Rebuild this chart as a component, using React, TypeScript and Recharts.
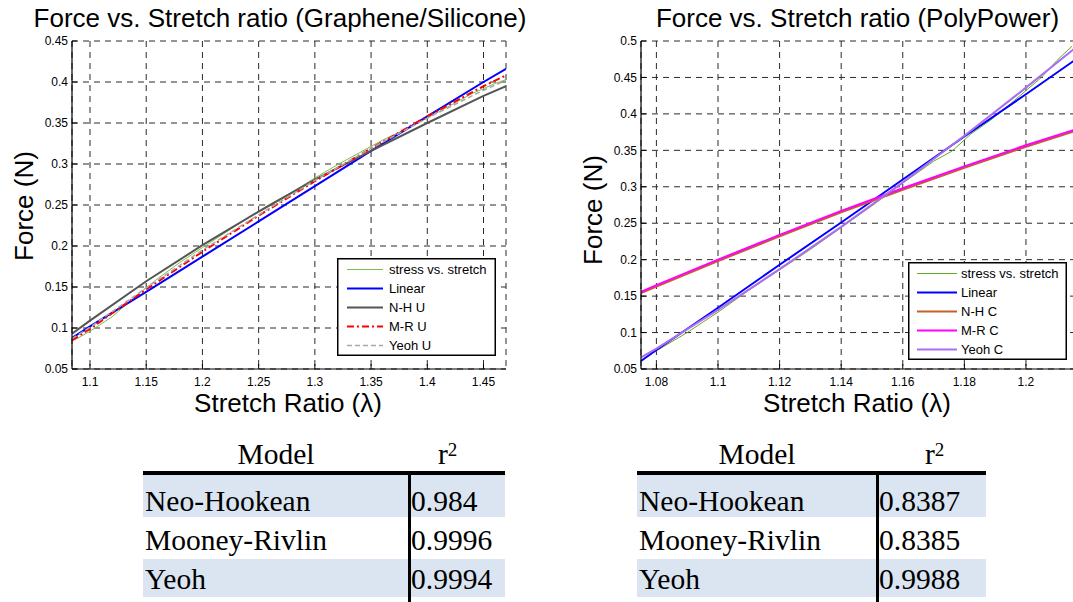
import { LineChart, Line, XAxis, YAxis, CartesianGrid, Legend } from 'recharts'

// Graphene/Silicone panel
const leftStretch = [1.084, 1.1, 1.15, 1.2, 1.25, 1.3, 1.35, 1.4, 1.45, 1.47]
const leftLinear = [0.088, 0.102, 0.144, 0.187, 0.23, 0.273, 0.316, 0.358, 0.4, 0.416]
const leftNeoHookean = [0.093, 0.109, 0.157, 0.201, 0.242, 0.281, 0.316, 0.35, 0.383, 0.395]
const leftMooneyRivlin = [0.085, 0.099, 0.147, 0.193, 0.237, 0.279, 0.319, 0.358, 0.395, 0.408]
const leftYeoh = [0.087, 0.101, 0.149, 0.195, 0.238, 0.28, 0.319, 0.356, 0.39, 0.402]
const leftMeasuredStretch = [1.087, 1.1, 1.12, 1.14, 1.16, 1.18, 1.2, 1.22, 1.24, 1.26, 1.28, 1.3, 1.32, 1.34, 1.36, 1.38, 1.4, 1.42, 1.44, 1.46, 1.47]
const leftMeasuredForce = [0.086, 0.096, 0.114, 0.138, 0.16, 0.18, 0.198, 0.216, 0.234, 0.251, 0.266, 0.283, 0.299, 0.314, 0.329, 0.342, 0.356, 0.371, 0.386, 0.398, 0.403]
const leftXTicks = [1.1, 1.15, 1.2, 1.25, 1.3, 1.35, 1.4, 1.45]
const leftYTicks = [0.05, 0.1, 0.15, 0.2, 0.25, 0.3, 0.35, 0.4, 0.45]

// PolyPower panel
const rightStretch = [1.075, 1.08, 1.1, 1.12, 1.14, 1.16, 1.18, 1.2, 1.2156]
const rightLinear = [0.061, 0.076, 0.134, 0.193, 0.251, 0.31, 0.369, 0.427, 0.473]
const rightNeoHookean = [0.154, 0.163, 0.198, 0.232, 0.265, 0.296, 0.326, 0.355, 0.376]
const rightMooneyRivlin = [0.156, 0.165, 0.2, 0.234, 0.267, 0.298, 0.328, 0.357, 0.378]
const rightYeoh = [0.066, 0.078, 0.131, 0.187, 0.245, 0.306, 0.37, 0.436, 0.489]
const rightMeasuredStretch = [1.078, 1.09, 1.1, 1.11, 1.12, 1.13, 1.14, 1.15, 1.16, 1.17, 1.176, 1.182, 1.189, 1.195, 1.2, 1.205, 1.21, 1.215]
const rightMeasuredForce = [0.07, 0.1, 0.128, 0.158, 0.186, 0.214, 0.244, 0.274, 0.305, 0.335, 0.349, 0.372, 0.393, 0.414, 0.432, 0.45, 0.473, 0.493]
const rightXTicks = [1.08, 1.1, 1.12, 1.14, 1.16, 1.18, 1.2]
const rightYTicks = [0.05, 0.1, 0.15, 0.2, 0.25, 0.3, 0.35, 0.4, 0.45, 0.5]

// r^2 tables
const modelNames = ['Neo-Hookean', 'Mooney-Rivlin', 'Yeoh']
const leftR2 = ['0.984', '0.9996', '0.9994']
const rightR2 = ['0.8387', '0.8385', '0.9988']

const zip = (xs: number[], ys: number[]) => xs.map((x, i) => ({ x, y: ys[i] }))

interface Series {
    name: string
    data: { x: number; y: number }[]
    color: string
    width: number
    dash?: string
}

const leftSeries: Series[] = [
    { name: 'stress vs. stretch', data: zip(leftMeasuredStretch, leftMeasuredForce), color: '#7cc04a', width: 1 },
    { name: 'Linear', data: zip(leftStretch, leftLinear), color: '#0000ff', width: 2 },
    { name: 'N-H U', data: zip(leftStretch, leftNeoHookean), color: '#555555', width: 2 },
    { name: 'M-R U', data: zip(leftStretch, leftMooneyRivlin), color: '#ff0000', width: 2, dash: '7 3 2 3' },
    { name: 'Yeoh U', data: zip(leftStretch, leftYeoh), color: '#a8a8a8', width: 1.5, dash: '5 3' },
]

const rightSeries: Series[] = [
    { name: 'stress vs. stretch', data: zip(rightMeasuredStretch, rightMeasuredForce), color: '#5fae1f', width: 1 },
    { name: 'Linear', data: zip(rightStretch, rightLinear), color: '#0000ff', width: 2 },
    { name: 'N-H C', data: zip(rightStretch, rightNeoHookean), color: '#c0622a', width: 2 },
    { name: 'M-R C', data: zip(rightStretch, rightMooneyRivlin), color: '#ff00ff', width: 2 },
    { name: 'Yeoh C', data: zip(rightStretch, rightYeoh), color: '#ad6cf2', width: 2 },
]

const SANS = '"Liberation Sans", Arial, Helvetica, sans-serif'
const SERIF = '"Liberation Serif", "Times New Roman", serif'

function LegendBox({ items, x1, x2, tx }: { items: Series[]; x1: number; x2: number; tx: number }) {
    return (
        <svg width={159} height={98} style={{ display: 'block' }}>
            <rect x={0.75} y={0.75} width={157.5} height={96.5} fill="#fff" stroke="#000" strokeWidth={1.5} />
            {items.map((s, i) => {
                const cy = 11.5 + i * 19
                return (
                    <g key={s.name}>
                        <line x1={x1} x2={x2} y1={cy} y2={cy} stroke={s.color} strokeWidth={s.width} strokeDasharray={s.dash} />
                        <text x={tx} y={cy + 4.6} fontSize={13} fontFamily={SANS} fill="#000">{s.name}</text>
                    </g>
                )
            })}
        </svg>
    )
}

interface PanelProps {
    left: number
    width: number
    yAxisWidth: number
    marginRight: number
    xDomain: [number, number]
    yDomain: [number, number]
    xTicks: number[]
    yTicks: number[]
    series: Series[]
    legendLeft: number
    legendTop: number
    legendLine: [number, number, number]
}

function Panel(p: PanelProps) {
    const axisLine = { stroke: '#000', strokeWidth: 1.2 }
    const tickStyle = { fill: '#000', fontSize: 12, fontFamily: SANS }
    return (
        <div style={{ position: 'absolute', left: p.left, top: 0 }}>
            <LineChart width={p.width} height={420} margin={{ top: 41, right: p.marginRight, bottom: 6, left: 0 }}>
                <CartesianGrid stroke="#2a2a2a" strokeDasharray="6 5" strokeWidth={1} />
                <XAxis
                    type="number"
                    dataKey="x"
                    domain={p.xDomain}
                    ticks={p.xTicks}
                    allowDataOverflow
                    height={45}
                    tickSize={-5}
                    tickMargin={13}
                    axisLine={axisLine}
                    tickLine={{ stroke: '#000' }}
                    tick={tickStyle}
                />
                <XAxis
                    xAxisId="top"
                    orientation="top"
                    type="number"
                    domain={p.xDomain}
                    ticks={p.xTicks}
                    allowDataOverflow
                    height={0}
                    tickSize={-5}
                    axisLine={axisLine}
                    tickLine={{ stroke: '#000' }}
                    tick={false}
                />
                <YAxis
                    type="number"
                    domain={p.yDomain}
                    ticks={p.yTicks}
                    allowDataOverflow
                    width={p.yAxisWidth}
                    tickSize={-5}
                    tickMargin={9}
                    axisLine={axisLine}
                    tickLine={{ stroke: '#000' }}
                    tick={tickStyle}
                />
                <YAxis
                    yAxisId="right"
                    orientation="right"
                    type="number"
                    domain={p.yDomain}
                    ticks={p.yTicks}
                    allowDataOverflow
                    width={0}
                    tickSize={-5}
                    axisLine={axisLine}
                    tickLine={{ stroke: '#000' }}
                    tick={false}
                />
                {p.series.map((s) => (
                    <Line
                        key={s.name}
                        name={s.name}
                        data={s.data}
                        dataKey="y"
                        type="linear"
                        stroke={s.color}
                        strokeWidth={s.width}
                        strokeDasharray={s.dash}
                        dot={false}
                        activeDot={false}
                        isAnimationActive={false}
                    />
                ))}
                <Legend
                    layout="vertical"
                    align="center"
                    verticalAlign="middle"
                    wrapperStyle={{ left: p.legendLeft, top: p.legendTop, width: 159, height: 98 }}
                    content={() => <LegendBox items={p.series} x1={p.legendLine[0]} x2={p.legendLine[1]} tx={p.legendLine[2]} />}
                />
            </LineChart>
        </div>
    )
}

function FitTable({ left, colSplit, right, values, r2Left }: { left: number; colSplit: number; right: number; values: string[]; r2Left: number }) {
    const baselines = [511.7, 550.5, 589]
    const rowTops = [475, 517, 559]
    const rowHeights = [42, 42, 38]
    const cell = (top: number): React.CSSProperties => ({
        position: 'absolute',
        top: top - 29.5,
        height: 39,
        lineHeight: '39px',
        fontSize: 29.5,
        fontFamily: SERIF,
        color: '#000',
        whiteSpace: 'nowrap',
    })
    return (
        <>
            <div style={{ ...cell(464), left, width: colSplit - left, textAlign: 'center' }}>Model</div>
            <div style={{ ...cell(464), left: r2Left }}>
                r<span style={{ fontSize: 19, position: 'relative', top: -8 }}>2</span>
            </div>
            {modelNames.map((m, i) => (
                <div key={m}>
                    <div
                        style={{
                            position: 'absolute',
                            left,
                            top: rowTops[i],
                            width: right - left,
                            height: rowHeights[i],
                            background: i % 2 === 0 ? '#dbe5f1' : '#fff',
                        }}
                    />
                    <div style={{ ...cell(baselines[i]), left: left + 2 }}>{m}</div>
                    <div style={{ ...cell(baselines[i]), left: colSplit + 2 }}>{values[i]}</div>
                </div>
            ))}
            <div style={{ position: 'absolute', left, top: 471, width: right - left, height: 4, background: '#000' }} />
            <div style={{ position: 'absolute', left: colSplit - 1.5, top: 473, width: 3, height: 130, background: '#000' }} />
        </>
    )
}

export default function App() {
    return (
        <div style={{ position: 'absolute', left: 0, top: 0, width: 1073, height: 602, overflow: 'hidden', background: '#fff' }}>
            <Panel
                left={0}
                width={530}
                yAxisWidth={72}
                marginRight={24}
                xDomain={[1.084, 1.47]}
                yDomain={[0.05, 0.45]}
                xTicks={leftXTicks}
                yTicks={leftYTicks}
                series={leftSeries}
                legendLeft={337}
                legendTop={258}
                legendLine={[10, 46, 52]}
            />
            <Panel
                left={560}
                width={520}
                yAxisWidth={81}
                marginRight={6}
                xDomain={[1.075, 1.2156]}
                yDomain={[0.05, 0.5]}
                xTicks={rightXTicks}
                yTicks={rightYTicks}
                series={rightSeries}
                legendLeft={348}
                legendTop={262}
                legendLine={[9, 49, 53]}
            />
            <svg width={1073} height={420} style={{ position: 'absolute', left: 0, top: 0, pointerEvents: 'none' }}>
                <g fontFamily={SANS} fontSize={26} fill="#000" textAnchor="middle">
                    <text x={280} y={26.5}>Force vs. Stretch ratio (Graphene/Silicone)</text>
                    <text x={857.5} y={26.5}>Force vs. Stretch ratio (PolyPower)</text>
                    <text x={288} y={411.5}>Stretch Ratio (λ)</text>
                    <text x={857} y={411.5}>Stretch Ratio (λ)</text>
                    <text transform="translate(33,206) rotate(-90)">Force (N)</text>
                    <text transform="translate(601.5,210) rotate(-90)">Force (N)</text>
                </g>
            </svg>
            <FitTable left={143} colSplit={409} right={505} values={leftR2} r2Left={438} />
            <FitTable left={637} colSplit={877} right={986} values={rightR2} r2Left={925} />
        </div>
    )
}
